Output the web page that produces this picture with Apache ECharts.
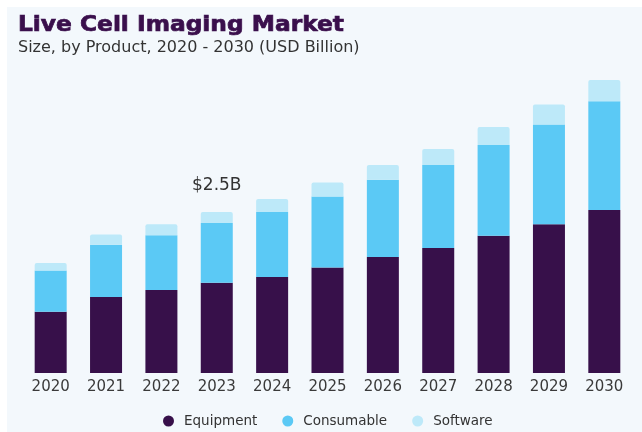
<!DOCTYPE html>
<html>
<head>
<meta charset="utf-8">
<script src="https://cdn.jsdelivr.net/npm/echarts@6/dist/echarts.min.js"></script>
<style>
  html, body { margin: 0; padding: 0; background: #ffffff; }
  #chart { width: 642px; height: 432px; }
</style>
</head>
<body>
<div id="chart"></div>
<script>
// Live cell imaging market size by product, USD billion
const years = ['2020', '2021', '2022', '2023', '2024', '2025', '2026', '2027', '2028', '2029', '2030'];
const equipment  = [0.95, 1.18, 1.29, 1.40, 1.49, 1.64, 1.80, 1.94, 2.13, 2.31, 2.53];
const consumable = [0.64, 0.81, 0.85, 0.93, 1.01, 1.10, 1.20, 1.29, 1.41, 1.55, 1.69];
const software   = [0.12, 0.16, 0.17, 0.17, 0.20, 0.22, 0.23, 0.25, 0.28, 0.31, 0.33];
const calloutYear = '2023';
const calloutText = '$2.5B';
const titleText = 'Live Cell Imaging Market';
const subtitleText = 'Size, by Product, 2020 - 2030 (USD Billion)';

const colors = { equipment: '#37104a', consumable: '#5bc9f5', software: '#bde9f9' };
const fontFamily = '"DejaVu Sans", "Liberation Sans", Arial, sans-serif';

const chart = echarts.init(document.getElementById('chart'), null, { renderer: 'canvas' });

function segment(name, data, color, top) {
  return {
    name: name,
    type: 'bar',
    stack: 'total',
    data: data,
    barWidth: 32,
    itemStyle: {
      color: color,
      borderRadius: top ? [2, 2, 0, 0] : 0
    },
    emphasis: { disabled: true }
  };
}

const softwareSeries = segment('Software', software, colors.software, true);
softwareSeries.label = {
  show: true,
  position: 'top',
  distance: 18,
  color: '#333333',
  fontSize: 17,
  fontFamily: fontFamily,
  formatter: p => (p.name === calloutYear ? calloutText : '')
};

chart.setOption({
  animation: false,
  backgroundColor: '#ffffff',
  graphic: [{
    type: 'rect',
    left: 7, top: 7,
    shape: { width: 635, height: 425 },
    style: { fill: '#f3f8fc' },
    z: -10
  }, {
    // heavy, wide headline
    type: 'text',
    x: 18, y: 15,
    scaleX: 1.11,
    style: {
      text: titleText,
      fill: '#3a0f4c',
      stroke: '#3a0f4c',
      lineWidth: 0.7,
      font: 'bold 21px "DejaVu Sans", sans-serif',
      verticalAlign: 'top'
    }
  }, {
    type: 'text',
    x: 18, y: 40,
    style: {
      text: subtitleText,
      fill: '#333333',
      font: '16px "DejaVu Sans", sans-serif',
      verticalAlign: 'top'
    }
  }],
  legend: {
    top: 409,
    left: 158,
    icon: 'circle',
    itemWidth: 21,
    itemHeight: 11,
    itemGap: 25,
    textStyle: { color: '#333333', fontSize: 13.5, fontFamily: fontFamily },
    data: ['Equipment', 'Consumable', 'Software']
  },
  grid: { left: 23, right: 10, top: 51, bottom: 59, containLabel: false },
  xAxis: {
    type: 'category',
    data: years,
    axisLine: { show: false },
    axisTick: { show: false },
    axisLabel: { color: '#3a3a3a', fontSize: 15, margin: 7, fontFamily: fontFamily }
  },
  yAxis: {
    type: 'value',
    min: 0,
    max: 5,
    show: false,
    splitLine: { show: false }
  },
  series: [
    segment('Equipment', equipment, colors.equipment, false),
    segment('Consumable', consumable, colors.consumable, false),
    softwareSeries
  ]
});
</script>
</body>
</html>
